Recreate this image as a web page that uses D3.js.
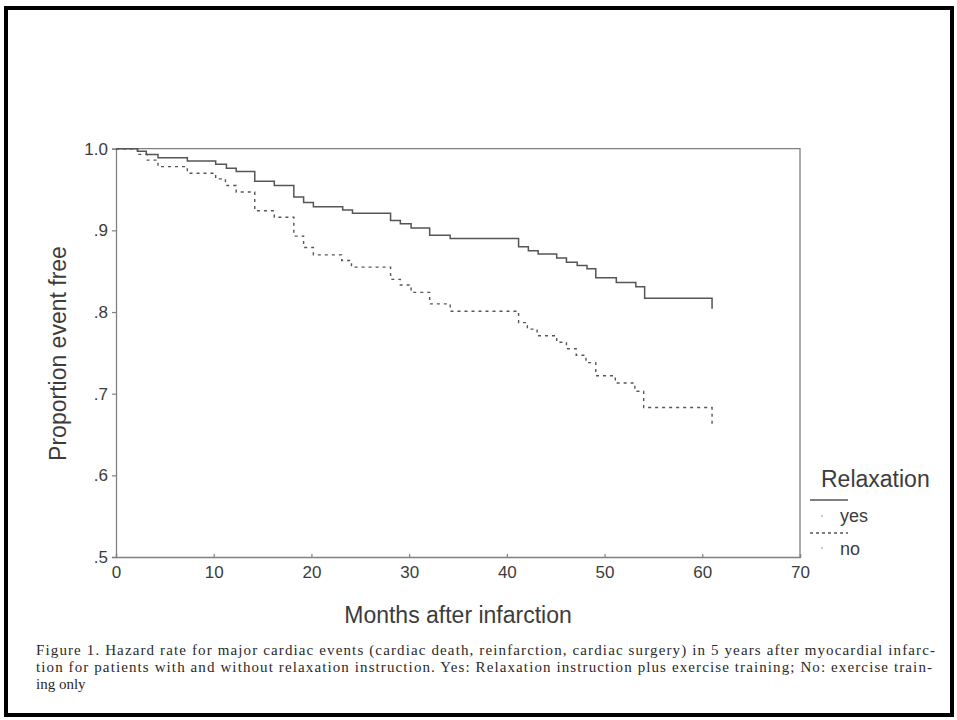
<!DOCTYPE html>
<html>
<head>
<meta charset="utf-8">
<script src="https://cdn.jsdelivr.net/npm/d3@7"></script>
<style>
  body { margin: 0; background: #fff; }
  svg { display: block; }
</style>
</head>
<body>
<div id="main"></div>
<script>
// step times (months) and proportion event free
const yesTimes  = [0, 2.2, 3.1, 4.3, 7.3, 10.2, 11.3, 12.3, 14.2, 16.2, 18.2, 19.2, 20.2, 23.2, 24.2, 28.1, 29.1, 30.2, 32.1, 34.2, 41.2, 42.2, 43.2, 45.1, 46.1, 47.2, 48.2, 49.1, 51.2, 53.2, 54.1, 61.0];
const yesValues = [1.0, 0.997, 0.993, 0.989, 0.985, 0.981, 0.976, 0.972, 0.960, 0.955, 0.941, 0.934, 0.929, 0.925, 0.921, 0.912, 0.908, 0.903, 0.894, 0.890, 0.880, 0.875, 0.871, 0.866, 0.861, 0.857, 0.853, 0.842, 0.836, 0.831, 0.817, 0.804];

const noTimes  = [0, 2.2, 3.2, 4.3, 7.3, 10.2, 11.2, 12.3, 14.2, 16.2, 18.2, 19.2, 20.2, 23.1, 24.1, 28.1, 29.1, 30.2, 32.1, 34.2, 41.2, 42.1, 43.1, 45.1, 46.1, 47.1, 48.1, 49.1, 51.1, 53.1, 54.0, 61.0];
const noValues = [1.0, 0.993, 0.986, 0.978, 0.970, 0.963, 0.955, 0.947, 0.924, 0.916, 0.893, 0.879, 0.870, 0.863, 0.855, 0.840, 0.833, 0.824, 0.810, 0.801, 0.787, 0.779, 0.771, 0.763, 0.755, 0.747, 0.738, 0.722, 0.713, 0.703, 0.683, 0.661];

const xTicks = [0, 10, 20, 30, 40, 50, 60, 70];
const yTicks = [0.5, 0.6, 0.7, 0.8, 0.9, 1.0];
const yTickLabels = ['.5', '.6', '.7', '.8', '.9', '1.0'];

const legendTitle = 'Relaxation';
const legendLabels = ['yes', 'no'];

const captionLines = [
  'Figure 1. Hazard rate for major cardiac events (cardiac death, reinfarction, cardiac surgery) in 5 years after myocardial infarc-',
  'tion for patients with and without relaxation instruction. Yes: Relaxation instruction plus exercise training; No: exercise train-',
  'ing only'
];

const W = 957, H = 720;
const svg = d3.select('#main').append('svg').attr('width', W).attr('height', H);

// page border
svg.append('rect')
  .attr('x', 6).attr('y', 8).attr('width', 946).attr('height', 707)
  .attr('fill', 'none').attr('stroke', '#000').attr('stroke-width', 4);

const x = d3.scaleLinear().domain([0, 70]).range([116, 800]);
const y = d3.scaleLinear().domain([0.5, 1.0]).range([557, 148.7]);

const axisColor = '#808080';
const textColor = '#3c3c3c';

// plot frame (top + right)
svg.append('path')
  .attr('d', `M${x(0)},${y(1)}H${x(70)}V${y(0.5)}`)
  .attr('fill', 'none').attr('stroke', axisColor).attr('stroke-width', 1.3);

let yAxis = svg.append('g').attr('transform', `translate(${x(0)},0)`)
  .call(d3.axisLeft(y).tickValues(yTicks).tickSize(4).tickPadding(4)
    .tickFormat((d, i) => yTickLabels[i]));

let xAxis = svg.append('g').attr('transform', `translate(0,${y(0.5)})`)
  .call(d3.axisBottom(x).tickValues(xTicks).tickSize(-3).tickPadding(9));

[xAxis, yAxis].forEach(a => {
  a.select('.domain').attr('stroke', axisColor).attr('stroke-width', 1.3);
  a.selectAll('.tick line').attr('stroke', axisColor).attr('stroke-width', 1.2);
  a.selectAll('.tick text')
    .style('font-family', '"Liberation Sans", Arial, sans-serif')
    .style('font-size', '17px')
    .attr('fill', textColor);
});

// curves
const line = d3.line().x(d => x(d[0])).y(d => y(d[1])).curve(d3.curveStepAfter);
const yesData = yesTimes.map((t, i) => [t, yesValues[i]]);
const noData = noTimes.map((t, i) => [t, noValues[i]]);

svg.append('path').datum(yesData)
  .attr('d', line)
  .attr('fill', 'none').attr('stroke', '#555').attr('stroke-width', 1.5);

svg.append('path').datum(noData)
  .attr('d', line)
  .attr('fill', 'none').attr('stroke', '#555').attr('stroke-width', 1.4)
  .attr('stroke-dasharray', '3,4');

// axis titles
svg.append('text')
  .attr('x', x(35)).attr('y', 623)
  .attr('text-anchor', 'middle')
  .style('font-family', '"Liberation Sans", Arial, sans-serif')
  .style('font-size', '23px')
  .attr('fill', textColor)
  .text('Months after infarction');

svg.append('text')
  .attr('transform', `translate(66,${(242 + 465) / 2}) rotate(-90)`)
  .attr('text-anchor', 'middle')
  .style('font-family', '"Liberation Sans", Arial, sans-serif')
  .style('font-size', '23px')
  .attr('fill', textColor)
  .text('Proportion event free');

// legend
let legend = svg.append('g');
legend.append('text')
  .attr('x', 821).attr('y', 487)
  .style('font-family', '"Liberation Sans", Arial, sans-serif')
  .style('font-size', '23px')
  .attr('fill', textColor)
  .text(legendTitle);

legend.selectAll('line.key').data(legendLabels).join('line').classed('key', true)
  .attr('x1', 810).attr('x2', 848)
  .attr('y1', (d, i) => 500 + i * 33).attr('y2', (d, i) => 500 + i * 33)
  .attr('stroke', '#555').attr('stroke-width', 1.3)
  .attr('stroke-dasharray', (d, i) => i === 0 ? null : '3,3');

legend.selectAll('circle.dot').data(legendLabels).join('circle').classed('dot', true)
  .attr('cx', 822).attr('cy', (d, i) => 516 + i * 32).attr('r', 1.2)
  .attr('fill', '#ccc');

legend.selectAll('text.lab').data(legendLabels).join('text').classed('lab', true)
  .attr('x', 840).attr('y', (d, i) => 522 + i * 33)
  .style('font-family', '"Liberation Sans", Arial, sans-serif')
  .style('font-size', '18px')
  .attr('fill', textColor)
  .text(d => d);

// caption
svg.selectAll('text.caption').data(captionLines).join('text').classed('caption', true)
  .attr('x', 36).attr('y', (d, i) => 655 + i * 17)
  .style('font-family', '"Liberation Serif", "Times New Roman", serif')
  .style('font-size', '15px')
  .attr('fill', '#2a2a2a')
  .attr('textLength', (d, i) => i === 0 ? 899 : (i === 1 ? 896 : null))
  .attr('lengthAdjust', 'spacing')
  .text(d => d);
</script>
</body>
</html>
